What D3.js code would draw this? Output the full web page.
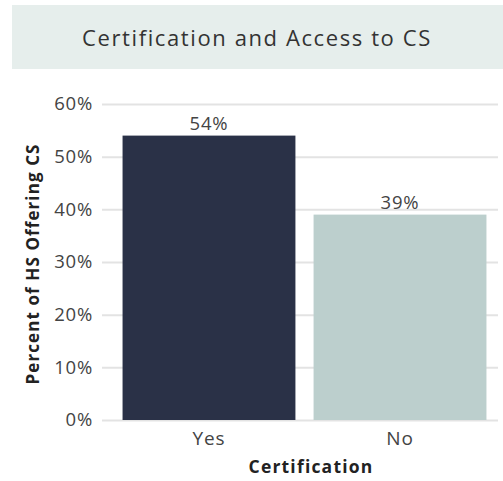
<!DOCTYPE html>
<html><head><meta charset="utf-8">
<script src="https://cdn.jsdelivr.net/npm/d3@7"></script>
<style>body{margin:0;background:#fff;} svg{display:block;}</style>
</head><body>
<script>
const categories = ["Yes", "No"];
const values = [54, 39];
const yTicks = [0, 10, 20, 30, 40, 50, 60];
const barColors = ["#2a3147", "#bccfcd"];
const title = "Certification and Access to CS";
const xTitle = "Certification";
const yTitle = "Percent of HS Offering CS";

const W = 503, H = 481;
const font = "'Open Sans', 'Noto Sans', sans-serif";
const svg = d3.select("body").append("svg").attr("width", W).attr("height", H);

svg.append("rect").attr("x", 12).attr("y", 5).attr("width", 491).attr("height", 64).attr("fill", "#e6eeec");
svg.append("text").attr("x", 257).attr("y", 46).attr("text-anchor", "middle")
  .attr("font-family", font).attr("font-size", 22).attr("fill", "#333")
  .attr("letter-spacing", 1.6).text(title);

const x = d3.scaleBand().domain(categories).range([113, 496]).paddingInner(0.095).paddingOuter(0.05);
const y = d3.scaleLinear().domain([0, 60]).range([420, 104]);

const yAxis = svg.append("g").attr("transform", "translate(102,0)")
  .call(d3.axisLeft(y).tickValues(yTicks).tickFormat(d => d + "%").tickSize(-396).tickPadding(9));
yAxis.select(".domain").remove();
yAxis.selectAll("line").attr("stroke", "#e3e3e3").attr("stroke-width", 2);
yAxis.selectAll("text").attr("font-family", font).attr("font-size", 18.5).attr("fill", "#444")
  .attr("letter-spacing", 0.8);

svg.selectAll("rect.bar").data(values).enter().append("rect").attr("class", "bar")
  .attr("x", (d, i) => x(categories[i])).attr("width", x.bandwidth())
  .attr("y", d => y(d)).attr("height", d => y(0) - y(d))
  .attr("fill", (d, i) => barColors[i]);

svg.selectAll("text.val").data(values).enter().append("text").attr("class", "val")
  .attr("x", (d, i) => x(categories[i]) + x.bandwidth() / 2).attr("y", d => y(d) - 6)
  .attr("text-anchor", "middle").attr("font-family", font).attr("font-size", 18.5).attr("fill", "#444")
  .attr("letter-spacing", 0.8).text(d => d + "%");

const xAxis = svg.append("g").attr("transform", "translate(0,420)")
  .call(d3.axisBottom(x).tickSize(0).tickPadding(12));
xAxis.select(".domain").remove();
xAxis.selectAll("text").attr("font-family", font).attr("font-size", 19).attr("fill", "#444")
  .attr("letter-spacing", 0.8);

svg.append("text").attr("x", 311).attr("y", 473).attr("text-anchor", "middle")
  .attr("font-family", font).attr("font-size", 17.5).attr("font-weight", "bold").attr("fill", "#222")
  .attr("letter-spacing", 1.2).text(xTitle);

svg.append("text").attr("transform", "translate(39,264) rotate(-90)").attr("text-anchor", "middle")
  .attr("font-family", font).attr("font-size", 17).attr("font-weight", "bold").attr("fill", "#222")
  .attr("letter-spacing", 1.1).text(yTitle);
</script>
</body></html>
